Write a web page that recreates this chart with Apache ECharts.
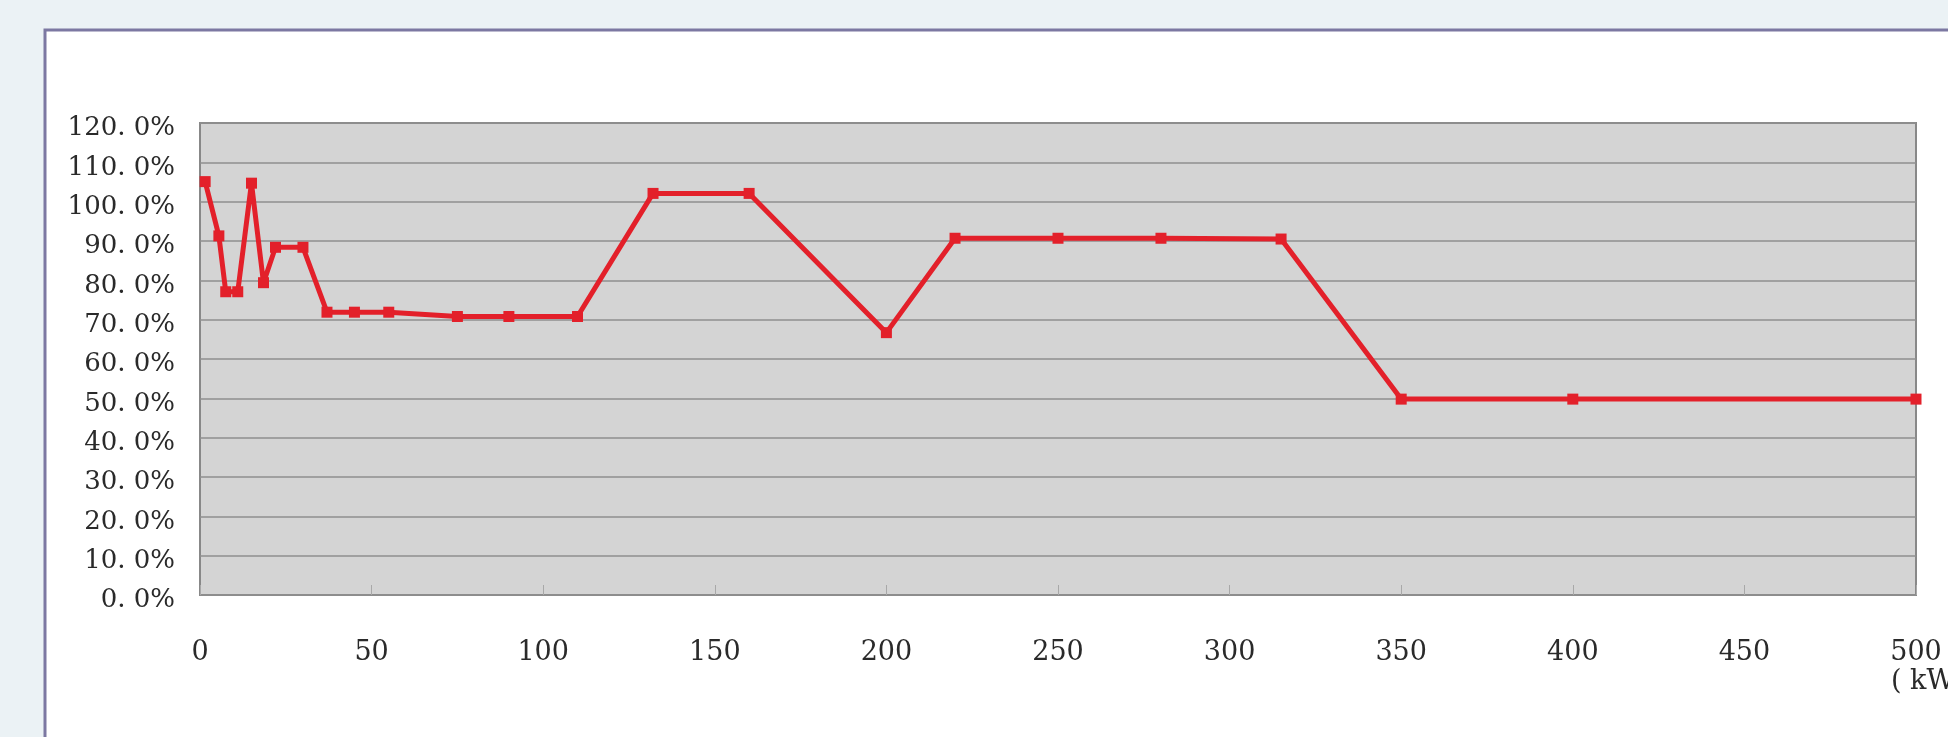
<!DOCTYPE html>
<html>
<head>
<meta charset="utf-8">
<script src="https://cdn.jsdelivr.net/npm/echarts@6/dist/echarts.min.js"></script>
<style>
html,body{margin:0;padding:0;background:#ebf2f5;}
#c{width:1948px;height:737px;}
</style>
</head>
<body>
<div id="c"></div>
<script>
// Data
const xValues = [1.5, 5.5, 7.5, 11, 15, 18.5, 22, 30, 37, 45, 55, 75, 90, 110, 132, 160, 200, 220, 250, 280, 315, 350, 400, 500];
const yValues = [105.1, 91.3, 77.1, 77.1, 104.7, 79.4, 88.4, 88.4, 71.9, 71.9, 71.9, 70.8, 70.8, 70.8, 102.1, 102.1, 66.7, 90.7, 90.7, 90.7, 90.5, 49.8, 49.8, 49.8];
const yTickValues = [0, 10, 20, 30, 40, 50, 60, 70, 80, 90, 100, 110, 120];
const yTickLabels = ['0. 0%', '10. 0%', '20. 0%', '30. 0%', '40. 0%', '50. 0%', '60. 0%', '70. 0%', '80. 0%', '90. 0%', '100. 0%', '110. 0%', '120. 0%'];
const xTickValues = [0, 50, 100, 150, 200, 250, 300, 350, 400, 450, 500];
const xTickLabels = ['0', '50', '100', '150', '200', '250', '300', '350', '400', '450', '500'];
const xUnitLabel = '( kW)';

const points = xValues.map((x, i) => [x, yValues[i]]);
const chart = echarts.init(document.getElementById('c'));
chart.setOption({
  animation: false,
  backgroundColor: '#ebf2f5',
  graphic: [
    {
      type: 'rect', z: -10,
      shape: { x: 45, y: 30, width: 1960, height: 760 },
      style: { fill: '#ffffff', stroke: '#7c78a2', lineWidth: 3 }
    },
    {
      type: 'text', left: 1891, top: 668, z: 10,
      style: { text: xUnitLabel, font: '27px "DejaVu Serif"', fill: '#2a2a2a' }
    }
  ],
  grid: {
    show: true, left: 200, top: 123, right: 32, bottom: 142,
    backgroundColor: '#d4d4d4', borderColor: '#888888', borderWidth: 2
  },
  xAxis: {
    type: 'value', min: 0, max: 500, interval: 50,
    axisLine: { show: false },
    axisTick: { show: true, inside: true, length: 10, lineStyle: { color: '#a8a8a8', width: 1 } },
    splitLine: { show: false },
    axisLabel: {
      margin: 44, fontFamily: 'DejaVu Serif', fontSize: 27, color: '#2a2a2a',
      formatter: v => { const i = xTickValues.indexOf(v); return i >= 0 ? xTickLabels[i] : ''; }
    }
  },
  yAxis: {
    type: 'value', min: 0, max: 120, interval: 10,
    axisLine: { show: false },
    axisTick: { show: false },
    splitLine: { show: true, lineStyle: { color: '#8f8f8f', width: 1.5 } },
    axisLabel: {
      margin: 25, fontFamily: 'DejaVu Serif', fontSize: 26, color: '#2a2a2a',
      verticalAlign: 'top', lineHeight: 11,
      formatter: v => { const i = yTickValues.indexOf(v); return i >= 0 ? yTickLabels[i] : ''; }
    }
  },
  series: [{
    type: 'line', data: points,
    symbol: 'rect', symbolSize: 11, showAllSymbol: true,
    lineStyle: { color: '#e3202a', width: 5 },
    itemStyle: { color: '#e3202a' },
    clip: false
  }]
});
</script>
</body>
</html>
